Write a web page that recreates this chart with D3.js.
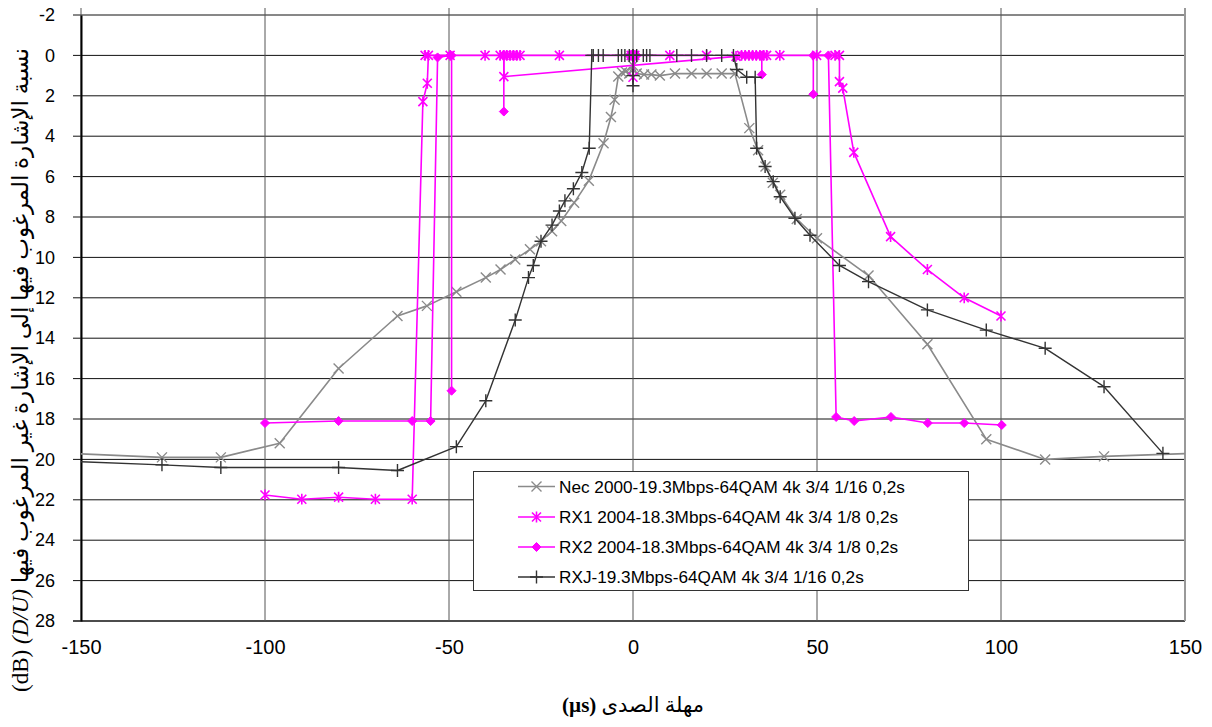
<!DOCTYPE html>
<html>
<head>
<meta charset="utf-8">
<script src="https://cdn.jsdelivr.net/npm/d3@7"></script>
<style>
  body { margin: 0; background: #fff; }
  svg { display: block; }
</style>
</head>
<body>
<div id="chart"></div>
<script>
// echo delay (us) on x, D/U ratio (dB) on y, null = gap in the line
const necX = [-160, -128, -112, -96, -80, -64, -56, -48, -40, -36, -32, -28, -25, -22, -19.5, -16, -12, -8, -6, -5, -4, -3, -2, -1, 0, 1, 3, 5, 7.3, 11.4, 15.9, 20, 24.1, 27.7, 31.6, 34, 36, 38, 40, 44.5, 50, 64, 80, 96, 112, 128, 160];
const necY = [19.65, 19.9, 19.9, 19.2, 15.5, 12.9, 12.4, 11.7, 11.0, 10.6, 10.1, 9.6, 9.2, 8.7, 8.2, 7.3, 6.2, 4.35, 3.05, 2.2, 1.05, 0.85, 0.8, 0.9, 0.5, 0.9, 0.95, 0.95, 1.0, 0.9, 0.9, 0.9, 0.9, 0.9, 3.6, 4.7, 5.5, 6.3, 6.9, 8.1, 9.05, 10.9, 14.3, 19.0, 20.0, 19.85, 19.65];

const rx1X = [-100, -90, -80, -70, -60, -57.1, -55.9, -55.6, -56.5, -49.7, -40.2, -36.1, -35.1, -35.1, 28, 29.5, 30.5, 31.5, 32.5, 33.5, 34.5, 35.5, 36.3, 39.9, 49.9, 54.9, 56.1, 56.1, 57, 60, 70, 80, 90, 100,
  null, -34.3, -33.4, -32.5, -31.6, -30.7, -20, -0.5, 0, 0, 0.5, 10, 20];
const rx1Y = [21.76, 21.97, 21.87, 21.97, 21.97, 2.29, 1.38, 0, 0, 0, 0, 0, 0, 1.05, 0.05, 0, 0, 0, 0, 0, 0, 0, 0, 0, 0, 0, 0, 1.3, 1.62, 4.8, 8.97, 10.6, 12.0, 12.9,
  null, 0, 0, 0, 0, 0, 0, 0, 0, 1.08, 0, 0, 0];

const rx2X = [-100, -80, -60, -55, -53.1, -49.7, -49.3, -49.3,
  null, -35.1, -35.1,
  null, -1, 0, 1,
  null, 35, 35,
  null, 49, 49, 53.1, 55.2, 60.1, 70.1, 80.1, 90, 100.2];
const rx2Y = [18.2, 18.1, 18.1, 18.1, 0.1, 0, 0, 16.6,
  null, 0, 2.78,
  null, 0, 0, 0,
  null, 0, 0.95,
  null, 1.92, 0, 0, 17.9, 18.1, 17.9, 18.2, 18.2, 18.3];

const rxjX = [-160, -128, -112, -80, -64, -48, -40, -32, -28.4, -27.1, -25, -22, -20, -18.5, -16.2, -13.9, -11.9, -11.2, -10.8, -9.4, -8.1, -4, -3.1, -2.2, -1, 0, 0, 0, 0, 1, 2.8, 3.7, 4.6, 11.9, 15.9, 20, 24.1, 27.3, 28.2, 30.9, 33.2, 33.6, 35.9, 38.1, 40, 44, 48.1, 56.1, 64, 80, 96, 112, 128, 144];
const rxjY = [20.05, 20.27, 20.4, 20.4, 20.55, 19.37, 17.1, 13.1, 11.0, 10.4, 9.2, 8.4, 7.7, 7.2, 6.6, 5.8, 4.6, 0, 0, 0, 0, 0, 0, 0, 0, 0, 1.0, 1.5, 0, 0, 0, 0, 0, 0, 0, 0, 0, 0, 0.7, 1.08, 1.08, 4.6, 5.5, 6.25, 7.0, 8.06, 8.9, 10.4, 11.2, 12.6, 13.6, 14.5, 16.4, 19.7];

const seriesNames = [
  "Nec 2000-19.3Mbps-64QAM 4k 3/4 1/16 0,2s",
  "RX1 2004-18.3Mbps-64QAM 4k 3/4 1/8 0,2s",
  "RX2 2004-18.3Mbps-64QAM 4k 3/4 1/8 0,2s",
  "RXJ-19.3Mbps-64QAM 4k 3/4 1/16 0,2s"
];
const yTicks = [-2, 0, 2, 4, 6, 8, 10, 12, 14, 16, 18, 20, 22, 24, 26, 28];
const xTicks = [-150, -100, -50, 0, 50, 100, 150];

const width = 1212, height = 727;
const pLeft = 81, pRight = 1185, pTop = 15, pBottom = 621;
const sans = "'Liberation Sans', Arial, sans-serif";
const serif = "'Liberation Serif', 'Times New Roman', 'DejaVu Sans', serif";

const x = d3.scaleLinear().domain([-150, 150]).range([pLeft, pRight]);
const y = d3.scaleLinear().domain([-2, 28]).range([pTop, pBottom]);

const svg = d3.select("#chart").append("svg")
  .attr("width", width)
  .attr("height", height)
  .attr("font-family", sans);

svg.append("clipPath").attr("id", "plot")
  .append("rect")
  .attr("x", pLeft).attr("y", pTop)
  .attr("width", pRight - pLeft).attr("height", pBottom - pTop);

// grid
svg.append("g").selectAll("line").data(yTicks).join("line")
  .attr("x1", pLeft - 8).attr("x2", pRight)
  .attr("y1", d => y(d)).attr("y2", d => y(d))
  .attr("stroke", "#111")
  .attr("stroke-width", d => d === 28 ? 1.6 : 1);

svg.append("g").selectAll("line").data(xTicks).join("line")
  .attr("x1", d => x(d)).attr("x2", d => x(d))
  .attr("y1", pTop - 7).attr("y2", pBottom)
  .attr("stroke", d => d === 150 ? "#999" : "#555")
  .attr("stroke-width", d => d === 150 ? 2 : 1);

// y axis
const yAxis = svg.append("g")
  .attr("transform", `translate(${pLeft},0)`)
  .call(d3.axisLeft(y).tickValues(yTicks).tickSize(0).tickPadding(26).tickFormat(d => String(d)));
yAxis.select(".domain").attr("stroke", "#000").attr("stroke-width", 2);
yAxis.selectAll("text").attr("font-size", 18).attr("fill", "#000")
  .attr("font-family", sans);

// x axis labels at bottom
const xAxis = svg.append("g")
  .attr("transform", `translate(0,${pBottom})`)
  .call(d3.axisBottom(x).tickValues(xTicks).tickSize(0).tickPadding(19).tickFormat(d => String(d)));
xAxis.select(".domain").remove();
xAxis.selectAll("text").attr("font-size", 20).attr("fill", "#000")
  .attr("font-family", sans);

// markers
const markers = {
  x: r => `M${-r},${-r}L${r},${r}M${-r},${r}L${r},${-r}`,
  star: r => `M${-r},${-r}L${r},${r}M${-r},${r}L${r},${-r}M0,${-r * 1.2}L0,${r * 1.2}`,
  diamond: r => `M0,${-r}L${r},0L0,${r}L${-r},0Z`,
  plus: r => `M${-r},0L${r},0M0,${-r}L0,${r}`
};

const series = [
  { xs: necX, ys: necY, color: "#8a8a8a", lw: 1.6, marker: "x", r: 5, mw: 1.4 },
  { xs: rx1X, ys: rx1Y, color: "#ff00ff", lw: 1.6, marker: "star", r: 4.5, mw: 1.6 },
  { xs: rx2X, ys: rx2Y, color: "#ff00ff", lw: 1.6, marker: "diamond", r: 4.5, mw: 1 },
  { xs: rxjX, ys: rxjY, color: "#333333", lw: 1.4, marker: "plus", r: 6.5, mw: 1.4 }
];

const line = d3.line()
  .defined(d => d[0] !== null)
  .x(d => x(d[0])).y(d => y(d[1]));

const plot = svg.append("g").attr("clip-path", "url(#plot)");

series.forEach(s => {
  const pts = s.xs.map((v, i) => [v, s.ys[i]]);
  plot.append("path")
    .attr("d", line(pts))
    .attr("fill", "none")
    .attr("stroke", s.color)
    .attr("stroke-width", s.lw)
    .attr("stroke-linejoin", "round");
  plot.append("g").selectAll("path")
    .data(pts.filter(p => p[0] !== null))
    .join("path")
    .attr("transform", p => `translate(${x(p[0])},${y(p[1])})`)
    .attr("d", markers[s.marker](s.r))
    .attr("fill", s.marker === "diamond" ? s.color : "none")
    .attr("stroke", s.color)
    .attr("stroke-width", s.mw);
});

// legend
const legend = svg.append("g");
legend.append("rect")
  .attr("x", 473.5).attr("y", 471.5)
  .attr("width", 495).attr("height", 119)
  .attr("fill", "#fff").attr("stroke", "#333").attr("stroke-width", 1);

const rowY = [486.5, 517, 547, 577];
series.forEach((s, i) => {
  const g = legend.append("g").attr("transform", `translate(0,${rowY[i]})`);
  g.append("line").attr("x1", 518).attr("x2", 555)
    .attr("stroke", s.color).attr("stroke-width", s.lw);
  g.append("path").attr("transform", "translate(536.5,0)")
    .attr("d", markers[s.marker](s.r))
    .attr("fill", s.marker === "diamond" ? s.color : "none")
    .attr("stroke", s.color).attr("stroke-width", s.mw);
  g.append("text").attr("x", 559).attr("dy", "0.36em")
    .attr("font-size", 17.2).attr("fill", "#000")
    .text(seriesNames[i]);
});

// axis titles
svg.append("text")
  .attr("x", 633).attr("y", 712)
  .attr("text-anchor", "middle")
  .attr("direction", "rtl")
  .attr("font-family", serif)
  .attr("font-size", 21)
  .call(t => {
    t.append("tspan").text("مهلة الصدى ");
    t.append("tspan").attr("font-weight", "bold").text("(µs)");
  });

svg.append("text")
  .attr("transform", "translate(28,370) rotate(-90)")
  .attr("text-anchor", "middle")
  .attr("font-family", serif)
  .attr("font-size", 23)
  .call(t => {
    t.append("tspan").text("(dB) ");
    t.append("tspan").attr("font-style", "italic").text("(D/U) ");
    t.append("tspan").text("نسبة الإشارة المرغوب فيها إلى الإشارة غير المرغوب فيها");
  });
</script>
</body>
</html>
